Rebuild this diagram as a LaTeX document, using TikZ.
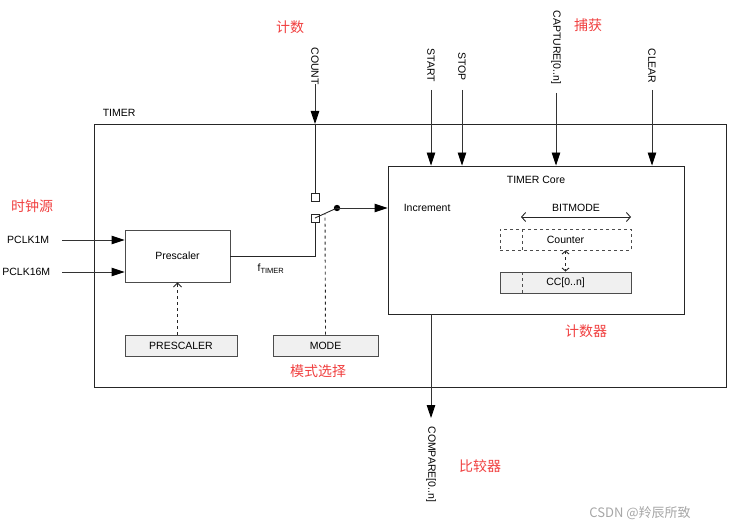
\documentclass[tikz,border=0pt]{standalone}
\usepackage{fontspec}
\setmainfont{Liberation Sans}
\newfontfamily\cjk{Noto Sans CJK SC}
\usetikzlibrary{arrows.meta,positioning}
\definecolor{cnred}{RGB}{240,64,64}
\definecolor{regfill}{RGB}{240,240,240}

\begin{document}
\begin{tikzpicture}[x=1pt,y=-1pt,font=\fontsize{10.5}{12}\selectfont,
    line width=0.9pt,
    sig/.style={draw=black!80,-{Triangle[length=13pt,width=8.5pt,black]}},
    ctl/.style={draw=black!85,dashed,-{Straight Barb[length=4pt,width=8pt]}},
    blk/.style={draw=black!70,minimum width=105pt,minimum height=52pt,inner sep=0pt},
    reg/.style={draw=black!70,fill=regfill,minimum height=21pt,inner sep=0pt},
    vlabel/.style={rotate=-90,anchor=west,inner sep=0pt},
    note/.style={text=cnred,font=\cjk\fontsize{14}{16}\selectfont}]
\useasboundingbox (0,0) rectangle (730,529);

% outer timer block
\draw[black!85] (94,124) rectangle (726,387);
\node[anchor=west] (timerlbl) at (99,113) {TIMER};

% prescaler and its inputs
\node[blk] (pre) at (177.5,256) {Prescaler};
\node[anchor=east] (pclka) at (53,240) {PCLK1M};
\node[anchor=east] (pclkb) at (54,272) {PCLK16M};
\coordinate (pina) at (62,240);
\coordinate (pinb) at (62,272);
\draw[sig] (pina) -- (pina -| pre.west);
\draw[sig] (pinb) -- (pinb -| pre.west);
\node[reg,minimum width=112pt] (prereg) at (181,345.5) {PRESCALER};
\draw[ctl] (prereg.north -| pre.south) -- (pre.south);

% mode select switch
\node[reg,minimum width=105pt] (modereg) at (325.5,345.5) {MODE};
\node[draw=black!85,line width=0.7pt,minimum size=8pt,inner sep=0pt] (swa) at (315,197) {};
\node[draw=black!85,line width=0.7pt,minimum size=8pt,inner sep=0pt] (swb) at (315,218) {};
\fill[black] (337,208) circle (3.2pt) coordinate (swdot);
\draw[black!85] (swb.center) -- (swdot);
\draw[black!85,dashed] (modereg.north) -- (325,214);
\draw[black!85] (pre.east) -| (swb.south);
\node (ftimer) at (271,269) {f\textsubscript{\fontsize{7.5}{8}\selectfont TIMER}};

% counter core
\node[draw=black!85,minimum width=296pt,minimum height=148pt,inner sep=0pt] (core) at (536,240) {};
\node (corelbl) at (536,180) {TIMER Core};
\node[anchor=west] (incr) at (400,208) {Increment};
\draw[sig] (swdot) -- (swdot -| core.west);
\node (bitlbl) at (576,208) {BITMODE};
\coordinate (bitl) at (521,217);
\coordinate (bitr) at (631,217);
\draw[black!85,{Straight Barb[length=4pt,width=9pt]}-{Straight Barb[length=4pt,width=9pt]}] (bitl) -- (bitr);
\node[draw=black!70,dashed,minimum width=131pt,minimum height=21pt,inner sep=0pt] (cnt) at (565.5,239.5) {Counter};
\node[reg,minimum width=131pt] (ccreg) at (565.5,282.5) {CC[0..n]};
\draw[black!70,dashed] (522,229) -- (522,250);
\draw[black!70,dashed] (522,272) -- (522,293);
\draw[black!85,dashed,{Straight Barb[length=3pt,width=7pt]}-{Straight Barb[length=3pt,width=7pt]}] (cnt.south) -- (ccreg.north);

% external signals
\node[vlabel] (count) at (315,47) {COUNT};
\coordinate (countin) at (315,84);
\draw[sig] (countin) -- (315,124) coordinate (countb);
\draw[black!85] (countb) -- (swa.north);
\foreach \name/\xpos/\ytop/\ytip in {start/431/48/90,stop/462/52/90,capture/556/10/93,clear/652/48/90}
  \coordinate (\name in) at (\xpos,\ytip);
\node[vlabel] (start) at (431,48) {START};
\node[vlabel] (stop) at (462,52) {STOP};
\node[vlabel] (capture) at (556,10) {CAPTURE[0..n]};
\node[vlabel] (clear) at (652,48) {CLEAR};
\foreach \name in {start,stop,capture,clear}
  \draw[sig] (\name in) -- (\name in |- core.north);
\coordinate (cmpout) at (431,418);
\draw[sig] (cmpout |- core.south) -- (cmpout);
\node[vlabel] (compare) at (431,426) {COMPARE[0..n]};

% chinese notes
\node[note] (n1) at (290,27) {计数};
\node[note] (n2) at (588,25) {捕获};
\node[note] (n3) at (32,206) {时钟源};
\node[note] (n4) at (318,371) {模式选择};
\node[note] (n5) at (586,331) {计数器};
\node[note] (n6) at (480,466) {比较器};
\node[text=black!35,font=\cjk\fontsize{13}{15}\selectfont] (mark) at (640,513) {CSDN @羚辰所致};
\end{tikzpicture}
\end{document}
